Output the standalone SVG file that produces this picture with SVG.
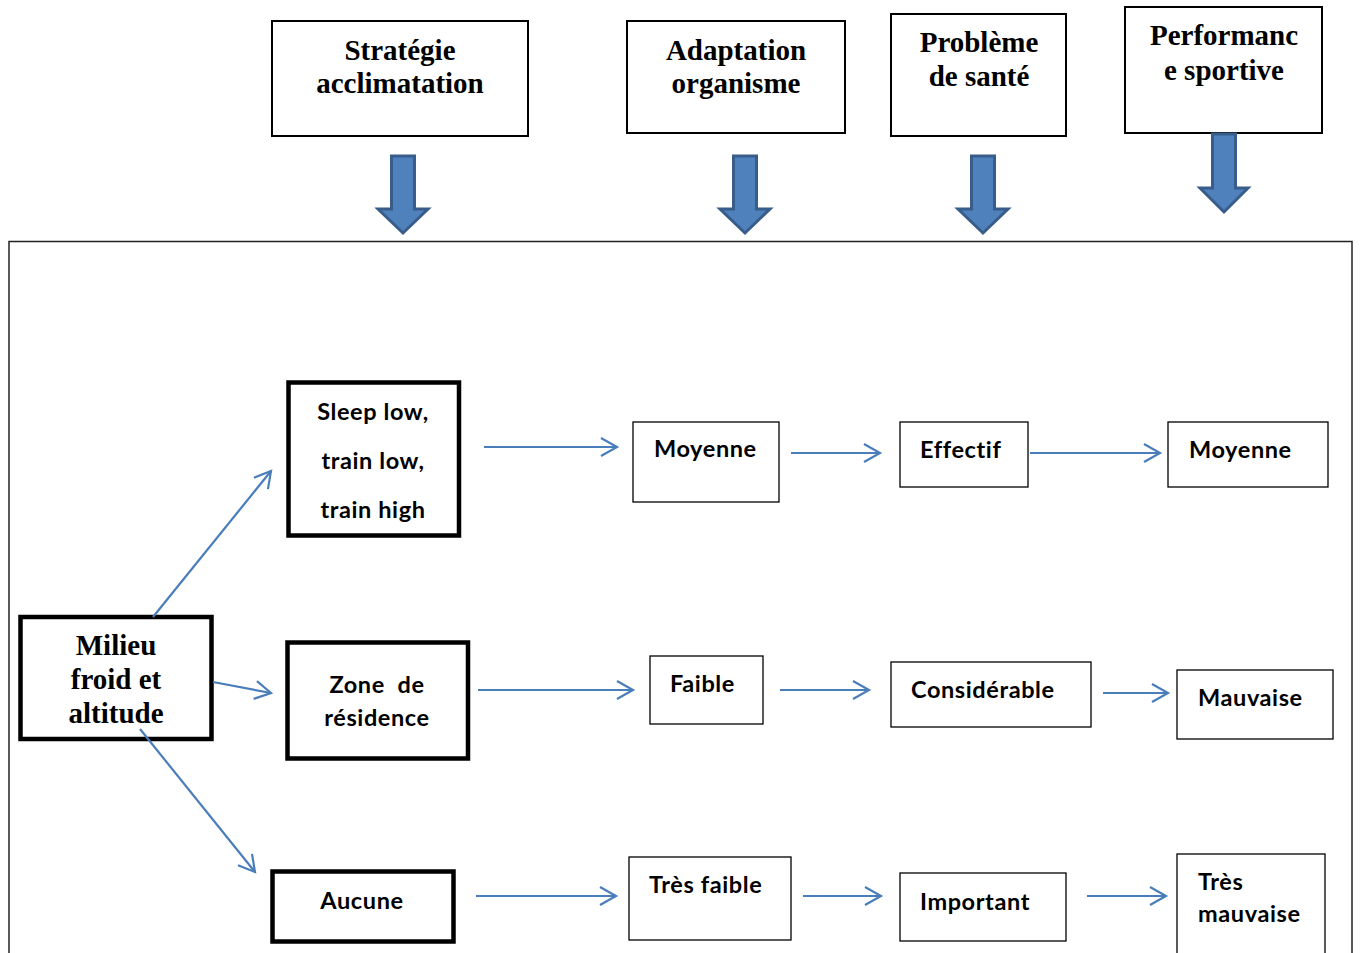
<svg xmlns="http://www.w3.org/2000/svg" width="1360" height="953" viewBox="0 0 1360 953">
<defs>
<style>
.hd{fill:#fff;stroke:#000;stroke-width:2}
.thick{fill:#fff;stroke:#000;stroke-width:4.5}
.thin{fill:#fff;stroke:#000;stroke-width:1.3}
.serif{font-family:"Liberation Serif","Times New Roman",serif;font-weight:bold;font-size:29px;fill:#000}
.sans{font-family:Lato,"Open Sans","Liberation Sans",sans-serif;font-weight:bold;font-size:23.5px;letter-spacing:0.6px;fill:#000}
.blk{fill:#4f81bd;stroke:#385d8a;stroke-width:3;stroke-linejoin:miter}
.con{fill:none;stroke:#4a7ebb;stroke-width:2.2;marker-end:url(#open)}
</style>
<marker id="open" markerUnits="userSpaceOnUse" markerWidth="20" markerHeight="22" refX="17" refY="10" orient="auto" viewBox="0 0 20 20">
<path d="M1,1 L17,10 L1,19" fill="none" stroke="#4a7ebb" stroke-width="2.2"/>
</marker>
</defs>
<rect width="1360" height="953" fill="#fff"/>
<rect id="container" x="9" y="241.5" width="1343" height="720" fill="none" stroke="#222" stroke-width="1.5"/>

<g id="h-strategie">
<rect class="hd" x="272" y="21" width="256" height="115"/>
<text class="serif" x="400" y="60" text-anchor="middle">Stratégie</text>
<text class="serif" x="400" y="93" text-anchor="middle">acclimatation</text>
</g>
<g id="h-adaptation">
<rect class="hd" x="627" y="21" width="218" height="112"/>
<text class="serif" x="736" y="60" text-anchor="middle">Adaptation</text>
<text class="serif" x="736" y="93" text-anchor="middle">organisme</text>
</g>
<g id="h-probleme">
<rect class="hd" x="891" y="14" width="175" height="122"/>
<text class="serif" x="979" y="52" text-anchor="middle">Problème</text>
<text class="serif" x="979" y="86" text-anchor="middle">de santé</text>
</g>
<g id="h-performance">
<rect class="hd" x="1125" y="7" width="197" height="126"/>
<text class="serif" x="1224" y="45" text-anchor="middle">Performanc</text>
<text class="serif" x="1224" y="80" text-anchor="middle">e sportive</text>
</g>

<g id="block-arrows">
<path class="blk" d="M391.5,156 H414.5 V209 H428 L403,233 L378,209 H391.5 Z"/>
<path class="blk" d="M733.5,156 H756.5 V209 H770 L745,233 L720,209 H733.5 Z"/>
<path class="blk" d="M971.5,156 H994.5 V209 H1008 L983,233 L958,209 H971.5 Z"/>
<path class="blk" d="M1212.5,134 H1235.5 V188 H1248 L1224,212 L1200,188 H1212.5 Z"/>
</g>

<g id="milieu">
<rect class="thick" x="20.5" y="617" width="191" height="122"/>
<text class="serif" x="116" y="655" text-anchor="middle">Milieu</text>
<text class="serif" x="116" y="689" text-anchor="middle">froid et</text>
<text class="serif" x="116" y="723" text-anchor="middle">altitude</text>
</g>
<g id="sleep">
<rect class="thick" x="288.5" y="382.5" width="170.5" height="153"/>
<text class="sans" x="373" y="420" text-anchor="middle">Sleep low,</text>
<text class="sans" x="373" y="469" text-anchor="middle">train low,</text>
<text class="sans" x="373" y="518" text-anchor="middle">train high</text>
</g>
<g id="zone">
<rect class="thick" x="287.5" y="642.5" width="180.5" height="116"/>
<text class="sans" x="377" y="693" text-anchor="middle" xml:space="preserve">Zone  de</text>
<text class="sans" x="377" y="726" text-anchor="middle">résidence</text>
</g>
<g id="aucune">
<rect class="thick" x="272.5" y="871.5" width="181" height="70"/>
<text class="sans" x="362" y="909" text-anchor="middle">Aucune</text>
</g>

<g id="moyenne1">
<rect class="thin" x="633" y="422" width="146" height="80"/>
<text class="sans" x="654" y="457">Moyenne</text>
</g>
<g id="faible">
<rect class="thin" x="650" y="656" width="113" height="68"/>
<text class="sans" x="670" y="692">Faible</text>
</g>
<g id="tres-faible">
<rect class="thin" x="629" y="857" width="162" height="83"/>
<text class="sans" x="649" y="893">Très faible</text>
</g>
<g id="effectif">
<rect class="thin" x="900" y="422" width="128" height="65"/>
<text class="sans" x="920" y="458">Effectif</text>
</g>
<g id="considerable">
<rect class="thin" x="891" y="662" width="200" height="65"/>
<text class="sans" x="911" y="698">Considérable</text>
</g>
<g id="important">
<rect class="thin" x="900" y="873" width="166" height="68"/>
<text class="sans" x="920" y="910">Important</text>
</g>
<g id="moyenne2">
<rect class="thin" x="1168" y="422" width="160" height="65"/>
<text class="sans" x="1189" y="458">Moyenne</text>
</g>
<g id="mauvaise">
<rect class="thin" x="1177" y="670" width="156" height="69"/>
<text class="sans" x="1198" y="706">Mauvaise</text>
</g>
<g id="tres-mauvaise">
<rect class="thin" x="1177" y="854" width="148" height="110"/>
<text class="sans" x="1198" y="890">Très</text>
<text class="sans" x="1198" y="922">mauvaise</text>
</g>

<g id="connectors">
<line class="con" x1="153" y1="617" x2="271" y2="471"/>
<line class="con" x1="213" y1="682" x2="271" y2="693"/>
<line class="con" x1="140" y1="729" x2="255" y2="872"/>
<line class="con" x1="484" y1="447" x2="617" y2="447"/>
<line class="con" x1="791" y1="453" x2="880" y2="453"/>
<line class="con" x1="1030" y1="453" x2="1160" y2="453"/>
<line class="con" x1="478" y1="690" x2="633" y2="690"/>
<line class="con" x1="780" y1="690" x2="869" y2="690"/>
<line class="con" x1="1103" y1="693" x2="1168" y2="693"/>
<line class="con" x1="476" y1="896" x2="616" y2="896"/>
<line class="con" x1="803" y1="896" x2="881" y2="896"/>
<line class="con" x1="1087" y1="896" x2="1166" y2="896"/>
</g>
</svg>
